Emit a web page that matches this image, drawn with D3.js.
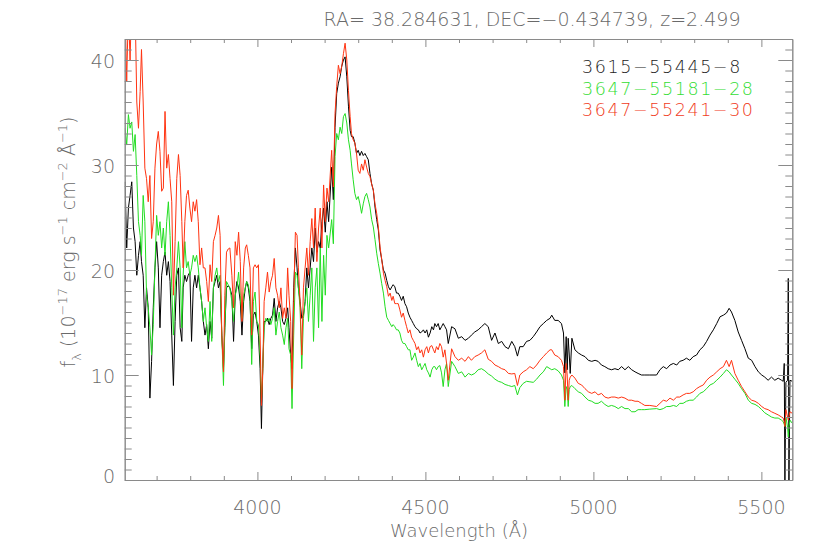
<!DOCTYPE html>
<html><head><meta charset="utf-8">
<script src="https://cdn.jsdelivr.net/npm/d3@7"></script>
<style>body{margin:0;background:#fff}svg{display:block}</style>
</head><body><svg id="c" width="830" height="560"></svg>
<script>
// ---- data ----
const wave = [
3606,3611,3616,3621,3626,3631,3636,3641,3646,3651,3655,3660,3665,3670,3675,3680,3685,3690,3695,3700,
3705,3710,3715,3720,3725,3730,3735,3740,3745,3750,3755,3760,3765,3770,3775,3779,3784,3789,3794,3799,
3804,3809,3814,3819,3824,3829,3834,3839,3844,3849,3854,3859,3864,3869,3874,3879,3884,3889,3894,3899,
3903,3908,3913,3918,
3924,3929,3934,3939,3944,3949,3954,3959,3964,3968,3973,3978,3983,3988,3993,3998,4003,4008,4012,4016,
4020,4025,4030,4035,4040,4045,4050,4055,4060,4065,4070,4075,4080,4085,4090,4094,4099,4103,4108,4113,
4118,4122,4127,4132,4137,4142,4147,4152,4157,4162,4167,4172,4177,4182,4187,4192,4197,4202,4207,4212,
4221,4226,4231,4236,4241,4246,4251,4256,4261,4266,4271,4276,4280,4285,4290,4295,4300,4305,4310,4315,
4320,4325,4330,4335,4340,4345,4350,4355,4360,4365,4370,4375,4380,4385,4390,4395,4400,4404,4409,4414,
4419,4424,4429,4434,4439,4444,4449,4454,4459,4464,4469,4474,4479,4484,4489,4494,4499,4504,4509,4514,
4519,4524,4528,4533,4538,4543,4548,4553,4558,4563,4568,
4578,4588,4598,4608,4618,4628,4637,4647,4657,4667,4677,4687,4697,4707,4717,4727,4737,4747,4757,4766,
4774,4781,4791,4801,4811,4821,4831,4841,4851,4861,4871,4876,4885,4895,4905,4911,4915,4919,4922,4925,
4928,4931,4936,4945,4955,4965,4975,4985,4995,5005,5014,5024,5034,5044,5054,5064,5074,5084,5094,5104,
5114,5124,5133,5143,5153,5168,5188,5198,5208,5218,5228,5238,5248,5257,5267,5277,5287,5297,5307,5317,
5327,5337,5347,5357,5367,5377,5387,5396,5404,5411,5421,5431,5441,5451,5461,5471,5481,5491,5501,5510,
5520,5530,5540,5550,5560,5565,5568,5570,5573,5578,5580,5582,5585,5592];

// 3615-55445-8 (black)
const flux_3615_55445_8 = [
28.4,22.1,25.9,27.1,28.4,24.0,22.7,19.5,21.4,22.7,20.8,19.5,14.5,18.3,16.4,7.8,11.3,16.4,20.2,22.7,
20.2,14.5,19.5,20.8,21.7,19.5,20.8,18.9,13.8,9.0,15.1,19.5,20.2,14.5,13.2,18.3,19.5,18.9,19.5,19.8,
13.2,18.3,19.5,18.3,19.5,18.3,17.0,15.1,13.8,14.8,12.5,15.1,13.5,18.3,18.9,19.5,18.3,18.9,13.8,10.6,
14.5,18.3,18.5,18.3,
17.6,13.2,17.6,18.9,18.3,17.0,13.8,17.0,18.3,18.9,18.3,17.0,12.5,15.7,16.0,15.1,13.8,10.6,4.9,10.6,
15.1,15.1,15.4,14.8,15.4,15.7,17.3,15.1,16.4,17.0,16.4,15.1,14.8,15.4,16.4,14.5,11.9,10.6,18.3,22.1,
20.2,18.3,17.0,15.4,15.7,17.0,20.2,18.3,20.2,22.1,20.8,24.0,21.7,22.7,22.1,24.6,25.9,23.6,26.5,24.6,
29.8,26.7,33.6,36.8,37.8,38.4,39.4,40.0,40.3,38.4,35.6,33.3,32.7,32.7,32.1,31.1,31.4,30.9,31.3,30.9,
31.1,30.8,30.5,29.2,28.2,27.6,26.0,24.8,23.8,21.9,21.0,20.0,19.7,19.0,18.4,18.1,18.4,18.6,18.4,17.8,
17.8,17.5,17.1,17.5,16.8,16.5,15.9,15.5,15.2,14.9,14.6,14.4,14.3,14.0,14.1,14.3,14.0,14.3,13.6,14.0,
14.6,14.3,14.9,14.6,14.9,14.3,14.6,14.9,14.6,14.3,13.0,
14.6,14.4,13.5,13.65,13.3,13.5,13.8,14.1,14.3,14.6,14.9,14.6,13.3,14.0,13.0,13.2,12.7,12.5,13.2,12.7,
11.8,12.7,12.7,13.2,13.3,13.65,14.1,14.6,14.9,15.2,15.4,15.7,15.2,15.2,14.9,14.0,10.2,13.65,10.5,13.5,
12.0,10.15,13.5,12.4,12.1,11.9,11.75,11.4,11.3,11.4,11.3,10.95,10.8,10.6,10.5,10.6,10.5,10.8,10.5,10.8,
10.5,10.3,10.15,10.0,10.0,10.0,10.0,10.5,10.8,10.6,10.95,11.1,10.95,11.3,11.4,11.6,11.4,11.75,11.9,12.4,
12.7,13.2,13.8,14.3,14.9,15.55,15.7,15.9,16.35,16.0,15.2,14.1,13.3,12.5,11.6,11.4,10.8,10.3,10.0,9.8,
9.5,9.8,9.5,9.7,9.5,9.4,11.1,0,9.3,9.5,19.2,0,9.5,9.4];

// 3647-55181-28 (green)
const flux_3647_55181_28 = [
33.5,31.9,34.8,33.5,34.1,31.3,32.9,29.0,24.6,23.3,21.4,27.1,24.6,17.6,16.4,14.5,11.9,14.8,20.2,25.2,
23.3,24.6,22.1,24.0,21.4,24.6,26.5,23.3,18.3,13.8,18.3,20.2,22.7,20.2,14.5,19.5,22.7,20.2,20.8,19.5,
20.2,21.4,20.8,21.4,20.2,18.3,17.0,15.1,16.4,14.5,13.2,17.0,13.2,18.3,19.5,20.2,18.9,19.5,13.8,9.0,
14.5,18.9,18.6,18.3,
17.0,15.1,17.6,18.3,19.8,17.6,15.4,17.6,18.3,18.9,18.6,17.6,11.0,17.0,17.9,15.1,14.8,11.9,7.5,10.6,
14.5,15.4,15.1,15.4,14.8,15.4,16.4,13.8,15.1,16.0,14.5,13.8,12.9,14.5,15.4,12.5,11.9,6.8,13.8,19.8,
19.5,18.3,16.4,10.6,15.4,17.0,18.3,15.1,17.6,20.2,13.2,18.3,20.2,14.5,22.1,15.1,21.4,17.6,23.3,22.1,
24.8,22.5,30.8,33.0,32.4,33.6,33.0,34.6,34.9,34.0,32.4,31.4,30.1,28.6,27.3,26.7,27.0,26.3,25.4,26.3,
27.0,27.3,26.7,26.0,24.8,24.1,22.9,21.6,20.6,19.7,18.7,17.8,16.5,15.5,15.2,14.9,14.6,14.8,14.6,14.3,
14.3,14.0,13.3,13.0,13.0,12.7,12.4,12.4,11.4,11.7,12.1,11.4,10.8,11.1,10.5,10.8,11.1,10.5,10.2,9.8,
10.5,10.8,10.8,10.5,10.8,10.9,10.2,8.9,10.5,11.1,8.9,
11.3,10.8,10.15,10.3,9.8,10.15,10.0,10.15,10.5,10.6,10.4,10.1,9.9,9.6,9.4,9.3,9.1,9.0,8.9,9.0,
8.1,8.8,9.2,9.4,9.35,9.3,9.6,10.0,10.3,10.8,10.6,10.5,10.6,10.4,10.0,9.5,7.0,8.9,8.6,7.0,
8.6,8.9,9.0,8.7,8.4,8.25,7.9,7.6,7.5,7.3,7.3,7.5,7.2,7.0,7.1,7.0,6.8,7.0,6.8,6.8,
6.5,6.5,6.7,6.7,6.7,6.75,6.8,6.7,6.8,7.0,7.0,7.1,7.0,7.3,7.3,7.5,7.6,7.6,7.9,8.25,
8.4,8.7,9.05,9.2,9.5,9.8,10.15,10.5,10.3,10.0,9.6,9.2,8.7,8.25,7.6,7.3,7.2,7.0,6.7,6.4,
6.2,6.0,5.9,5.9,5.7,5.55,5.3,5.1,6.0,5.0,4.1,5.0,5.7,5.4];

// 3647-55241-30 (red)
const flux_3647_55241_30 = [
45,38,45,40,46,42,45,36,33.5,37,41,36,29.7,28.7,26.5,29.0,23.0,24.6,29.7,32.0,
33.2,31.3,27.5,27.8,35.1,29.7,31.0,28.7,26.5,17.6,22.7,28.7,31.0,29.0,24.6,20.2,24.6,27.1,27.6,25.9,
24.6,26.5,25.6,26.7,24.6,20.5,22.1,20.2,20.2,18.9,17.0,20.5,18.9,22.7,23.3,24.0,25.2,23.3,13.8,10.3,
17.6,21.7,22.0,22.1,
19.5,16.4,22.7,21.4,23.6,20.8,15.1,20.2,22.1,22.4,21.4,20.2,13.8,20.2,20.5,20.2,20.5,13.8,7.1,10.6,
17.0,18.3,19.8,17.9,18.9,19.5,21.1,18.3,17.6,16.4,18.3,15.4,16.4,15.4,20.2,17.6,15.1,8.7,17.0,23.6,
23.3,20.2,17.0,11.9,18.3,20.2,22.1,19.5,22.7,24.9,22.1,25.9,20.8,24.0,25.9,22.1,28.1,24.6,27.8,26.5,
31.4,27.9,34.9,37.5,39.5,38.7,39.4,40.6,41.6,40.0,37.1,34.6,33.0,32.4,32.1,31.1,29.5,29.2,30.1,29.5,
30.5,29.8,29.2,28.9,28.2,27.6,26.3,25.4,24.1,22.2,21.0,19.7,19.0,18.4,17.5,17.8,17.1,17.5,16.8,16.8,
16.8,16.2,15.5,15.9,15.2,14.6,14.0,14.3,13.6,13.3,13.0,12.4,12.7,12.1,12.4,11.7,12.4,12.7,12.1,12.7,
12.8,12.4,12.1,12.7,12.4,13.0,12.7,11.7,12.4,11.1,9.5,
12.5,11.75,11.4,11.6,11.3,11.75,11.4,11.75,11.9,12.1,12.4,11.5,11.3,10.95,10.8,10.6,10.5,10.15,10.1,10.15,
9.0,10.0,10.3,10.5,10.8,10.6,10.95,11.4,11.75,12.1,12.4,12.4,11.9,11.75,11.4,10.8,7.6,11.1,10.0,7.6,
9.5,9.8,10.0,9.7,9.2,9.05,8.7,8.4,8.25,8.4,8.1,8.25,7.9,7.8,7.9,7.9,7.8,7.9,7.8,7.6,
7.6,7.5,7.5,7.3,7.1,7.1,7.0,7.3,7.6,7.5,7.8,7.6,7.9,7.9,8.1,8.25,8.25,8.4,8.7,8.9,
9.05,9.5,9.8,10.0,10.3,10.6,10.8,11.4,10.8,11.4,10.15,9.5,8.9,8.4,7.9,7.6,7.5,7.3,7.0,6.8,
6.7,6.5,6.35,6.2,6.0,5.9,5.5,5.1,6.7,6.0,5.7,6.0,6.5,6.35];

const seriesNames  = ["3615\u221255445\u22128", "3647\u221255181\u221228", "3647\u221255241\u221230"];
const seriesColors = ["#000000", "#22dd22", "#ff3311"];
const legendColors = ["#222222", "#33dd33", "#f03a1a"];
const xMajorTicks = [4000, 4500, 5000, 5500];
const yMajorTicks = [0, 10, 20, 30, 40];
const titleText = "RA= 38.284631, DEC=\u22120.434739, z=2.499";

// ---- layout ----
const svg = d3.select("#c");
const L = 124.7, R = 792.3, T = 39, B = 480;
const x = d3.scaleLinear().domain([3605, 5592]).range([L, R]);
const y = d3.scaleLinear().domain([0, 42]).range([B, T]);
const FONT = "'DejaVu Sans', 'Liberation Sans', sans-serif";
const AX = "#8a8a8a", TXT = "#6a6a6a";

svg.append("rect").attr("width", 830).attr("height", 560).attr("fill", "#fff");

// clip
svg.append("defs").append("clipPath").attr("id", "clip")
  .append("rect").attr("x", L).attr("y", T).attr("width", R - L).attr("height", B - T);

// spectra
const series = [flux_3615_55445_8, flux_3647_55181_28, flux_3647_55241_30];
const line = d3.line().x((d, i) => x(wave[i])).y(d => y(d));
const g = svg.append("g").attr("clip-path", "url(#clip)");
series.forEach((s, k) => {
  g.append("path").datum(s).attr("d", line)
    .attr("fill", "none").attr("stroke", seriesColors[k])
    .attr("stroke-width", 1).attr("stroke-linejoin", "round");
});

// axes (IDL-style inward ticks on all four sides)
const xMinor = d3.range(3700, 5600, 100).filter(v => !xMajorTicks.includes(v));
const yMinor = d3.range(1, 43, 1).filter(v => !yMajorTicks.includes(v));
function styleAxis(sel) {
  sel.selectAll(".domain").attr("stroke", AX);
  sel.selectAll(".tick line").attr("stroke", AX);
  sel.selectAll("text").remove();
}
const mk = (fn, scale, vals, size, tr) => svg.append("g").attr("transform", tr)
  .call(fn(scale).tickValues(vals).tickSize(size).tickSizeOuter(0).tickFormat(""))
  .call(styleAxis);
mk(d3.axisBottom, x, xMajorTicks, -8, `translate(0,${B})`);
mk(d3.axisBottom, x, xMinor, -4, `translate(0,${B})`);
mk(d3.axisTop, x, xMajorTicks, -8, `translate(0,${T})`);
mk(d3.axisTop, x, xMinor, -4, `translate(0,${T})`);
mk(d3.axisLeft, y, yMajorTicks, -14, `translate(${L},0)`);
mk(d3.axisLeft, y, yMinor, -7, `translate(${L},0)`);
mk(d3.axisRight, y, yMajorTicks, -14, `translate(${R},0)`);
mk(d3.axisRight, y, yMinor, -7, `translate(${R},0)`);

// tick labels
svg.append("g").selectAll("text").data(xMajorTicks).join("text")
  .attr("x", d => x(d)).attr("y", 514).attr("text-anchor", "middle")
  .attr("font-family", FONT).attr("font-size", 19).attr("fill", TXT)
  .attr("font-weight", 300).text(d => d);
svg.append("g").selectAll("text").data(yMajorTicks).join("text")
  .attr("x", 115).attr("y", d => Math.min(y(d) + 8, B + 2.5)).attr("text-anchor", "end")
  .attr("font-family", FONT).attr("font-size", 19).attr("fill", TXT)
  .attr("font-weight", 300).text(d => d);

// title
svg.append("text").attr("x", 532).attr("y", 26).attr("text-anchor", "middle")
  .attr("font-family", FONT).attr("font-size", 19).attr("fill", TXT)
  .attr("font-weight", 300).text(titleText);

// x-axis title
svg.append("text").attr("x", 459).attr("y", 537).attr("text-anchor", "middle")
  .attr("font-family", FONT).attr("font-size", 18).attr("fill", TXT)
  .attr("font-weight", 300).text("Wavelength (\u00C5)");

// y-axis title
const yt = svg.append("text").attr("transform", "translate(75,242) rotate(-90)")
  .attr("text-anchor", "middle").attr("font-family", FONT).attr("font-size", 19)
  .attr("fill", TXT).attr("font-weight", 300);
const parts = [
  ["f", 0, 19], ["\u03BB", 6, 13], [" (10", -6, 19], ["\u221217", -8, 13],
  [" erg s", 8, 19], ["\u22121", -8, 13], [" cm", 8, 19], ["\u22122", -8, 13],
  [" \u00C5", 8, 19], ["\u22121", -8, 13], [")", 8, 19]
];
parts.forEach(p => yt.append("tspan").attr("dy", p[1]).attr("font-size", p[2]).text(p[0]));

// legend
svg.append("g").selectAll("text").data(seriesNames).join("text")
  .attr("x", 582).attr("y", (d, i) => 73 + i * 21.5)
  .attr("font-family", FONT).attr("font-size", 17.5).attr("letter-spacing", 1.6)
  .attr("font-weight", 300)
  .attr("fill", (d, i) => legendColors[i]).text(d => d);
</script></body></html>
